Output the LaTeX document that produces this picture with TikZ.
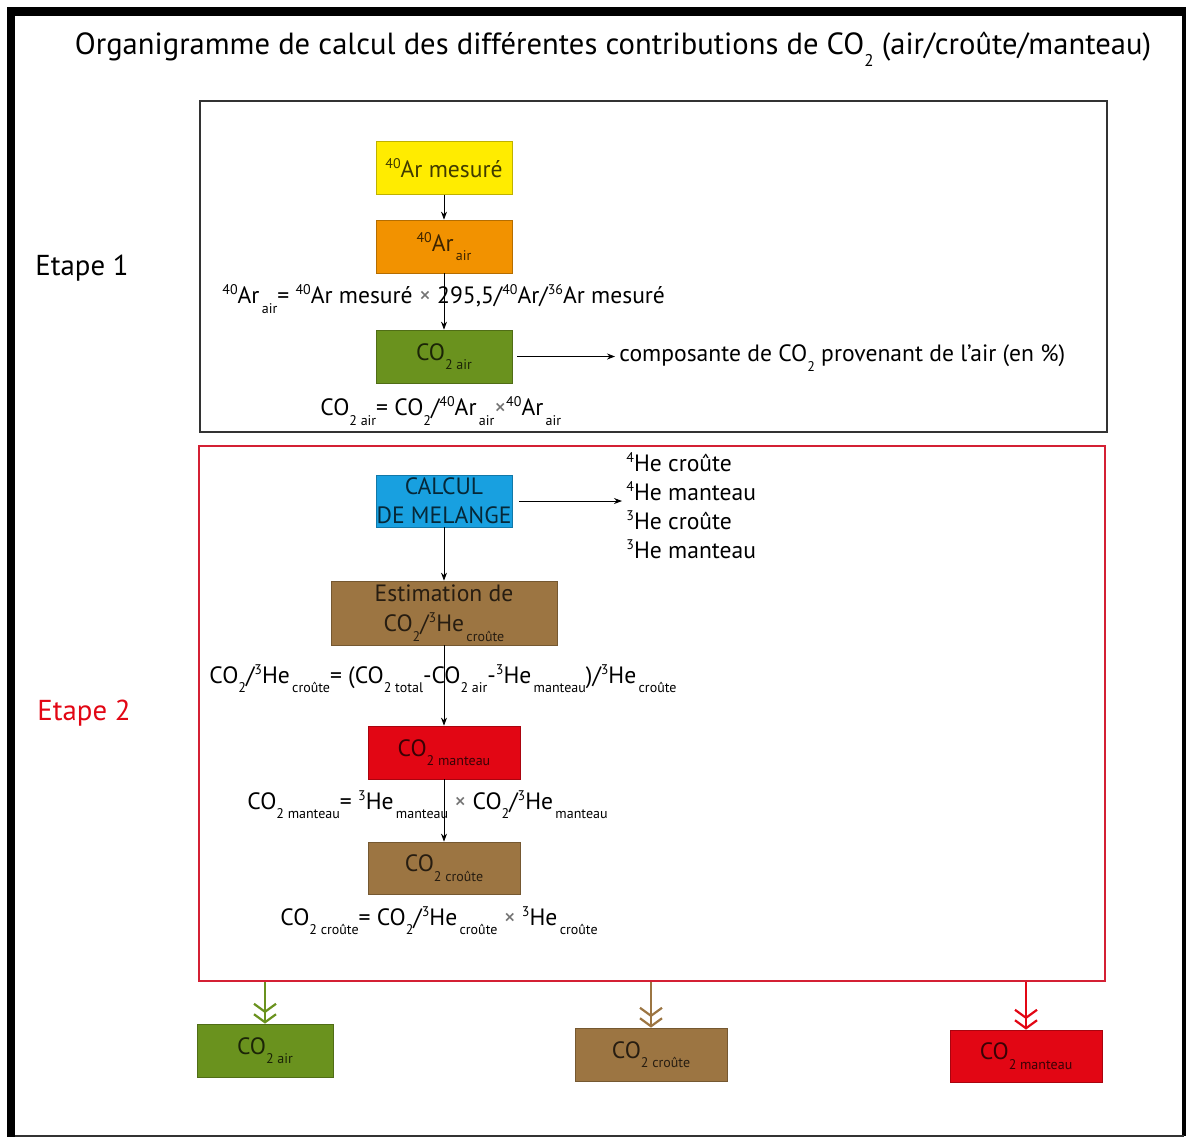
\documentclass[tikz,border=0pt]{standalone}
\usepackage{fontspec}
\setmainfont{PT Sans}
\usepackage{xcolor}
\definecolor{argonyellow}{RGB}{255, 236, 0}
\definecolor{argonorange}{RGB}{242, 146, 0}
\definecolor{airgreen}{RGB}{106, 146, 30}
\definecolor{mixblue}{RGB}{24, 160, 224}
\definecolor{crustbrown}{RGB}{156, 117, 66}
\definecolor{mantlered}{RGB}{226, 6, 20}
\definecolor{stepred}{RGB}{212, 32, 52}
\usepackage{tikz}
\usetikzlibrary{arrows.meta, positioning}

\newcommand{\isot}[1]{\raisebox{0.75ex}{\fontsize{7}{7}\selectfont #1}}
\newcommand{\indx}[1]{\raisebox{-0.8ex}{\fontsize{7}{7}\selectfont #1}}
\newcommand{\fois}{{\color{black!55}×}}

\tikzset{
    box/.style={draw=#1!75!black, fill=#1, text=#1!25!black, minimum width=68pt,
        minimum height=26.5pt, inner sep=1pt, align=center, font=\fontsize{11.8}{14}\selectfont},
    formula/.style={anchor=west, inner sep=0pt, font=\fontsize{11.8}{14}\selectfont},
    flow/.style={->, >={Stealth[length=4pt, width=3pt]}, thin},
    outflow/.style={-{Straight Barb[length=4pt, width=11pt] Straight Barb[length=4pt, width=11pt]},
        line width=1.1pt, draw=#1},
}

\begin{document}
\begin{tikzpicture}[x=0.5pt, y=-0.5pt]
    % cadre
    \useasboundingbox (0,0) rectangle (1186,1137);
    \fill[black] (7,7) rectangle (15,1137);
    \fill[black] (7,7) rectangle (1186,16);
    \draw[line width=1.6pt] (1184,16) -- (1184,1136);
    \draw[line width=0.9pt, black!80] (15,1136) -- (1184,1136);

    \node[font=\fontsize{15.3}{17}\selectfont] (title) at (613,49)
        {Organigramme de calcul des différentes contributions de CO\raisebox{-0.8ex}{\fontsize{8.5}{8.5}\selectfont 2} (air/croûte/manteau)};

    % etape 1
    \node[draw=black!80, line width=1.3pt, minimum width=453.5pt, minimum height=165.5pt] (stepone) at (653.5,266.5) {};
    \node[font=\fontsize{14.4}{16}\selectfont] (labelone) at (82,268) {Etape 1};

    \node[box=argonyellow] (armes) at (444,168) {\isot{40}Ar mesuré};
    \node[box=argonorange] (arair) at (444,246.5) {\isot{40}Ar\indx{\,air}};
    \node[box=airgreen] (coair) at (444,356.5) {CO\indx{2 air}};

    \node[formula] (eqarair) at (222,299) {\isot{40}Ar\indx{\,air}= \isot{40}Ar mesuré \fois\ 295,5/\isot{40}Ar/\isot{36}Ar mesuré};
    \node[formula] (eqcoair) at (320,411) {CO\indx{2 air}= CO\indx{2}/\isot{40}Ar\indx{\,air}\fois\isot{40}Ar\indx{\,air}};
    \node[formula] (airshare) at (619,358) {composante de CO\indx{2} provenant de l'air (en \%)};

    \draw[flow] (armes) -- (arair);
    \draw[flow] (arair) -- (coair);
    \draw[flow] ([xshift=2.5pt]coair.east) -- ([xshift=-2pt]coair.east -| airshare.west);

    % etape 2
    \node[draw=stepred, line width=1pt, minimum width=453pt, minimum height=267.5pt] (steptwo) at (652,713.5) {};
    \node[font=\fontsize{14.4}{16}\selectfont, text=mantlered] (labeltwo) at (84,713) {Etape 2};

    \node[box=mixblue, minimum height=26pt, inner sep=0pt, font=\fontsize{11.8}{14.5}\selectfont] (melange) at (444,501) {CALCUL\\DE MELANGE};
    \node[formula, align=left, font=\fontsize{11.8}{14.5}\selectfont] (helist) at (626,506)
        {\isot{4}He croûte\\\isot{4}He manteau\\\isot{3}He croûte\\\isot{3}He manteau};
    \node[box=crustbrown, minimum width=113pt, minimum height=32pt, inner sep=0pt, font=\fontsize{11.8}{15}\selectfont] (estim) at (444,613)
        {Estimation de\\CO\indx{2}/\isot{3}He\indx{\,croûte}};
    \node[box=mantlered, minimum width=76pt] (comant) at (444,752.5) {CO\indx{2 manteau}};
    \node[box=crustbrown, minimum width=76pt, minimum height=26pt] (cocrust) at (444,868) {CO\indx{2 croûte}};

    \node[formula] (eqratio) at (209,679) {CO\indx{2}/\isot{3}He\indx{\,croûte}= (CO\indx{2 total}-CO\indx{2 air}-\isot{3}He\indx{\,manteau})/\isot{3}He\indx{\,croûte}};
    \node[formula] (eqmant) at (247,805) {CO\indx{2 manteau}= \isot{3}He\indx{\,manteau} \fois\ CO\indx{2}/\isot{3}He\indx{\,manteau}};
    \node[formula] (eqcrust) at (280,921) {CO\indx{2 croûte}= CO\indx{2}/\isot{3}He\indx{\,croûte} \fois\ \isot{3}He\indx{\,croûte}};

    \draw[flow] ([xshift=3.5pt]melange.east) -- ([xshift=-2pt]melange.east -| helist.west);
    \draw[flow] (melange) -- (estim);
    \draw[flow] (estim) -- (comant);
    \draw[flow] (comant) -- (cocrust);

    % resultats
    \node[box=airgreen] (airout) at (265,1050.5) {CO\indx{2 air}};
    \node[box=crustbrown, minimum width=76pt] (crustout) at (651,1054.5) {CO\indx{2 croûte}};
    \node[box=mantlered, minimum width=76pt, minimum height=26pt] (mantout) at (1026,1056) {CO\indx{2 manteau}};

    \draw[outflow=airgreen] (steptwo.south -| airout.north) -- (airout.north);
    \draw[outflow=crustbrown] (steptwo.south -| crustout.north) -- (crustout.north);
    \draw[outflow=mantlered] (steptwo.south -| mantout.north) -- (mantout.north);
\end{tikzpicture}
\end{document}
